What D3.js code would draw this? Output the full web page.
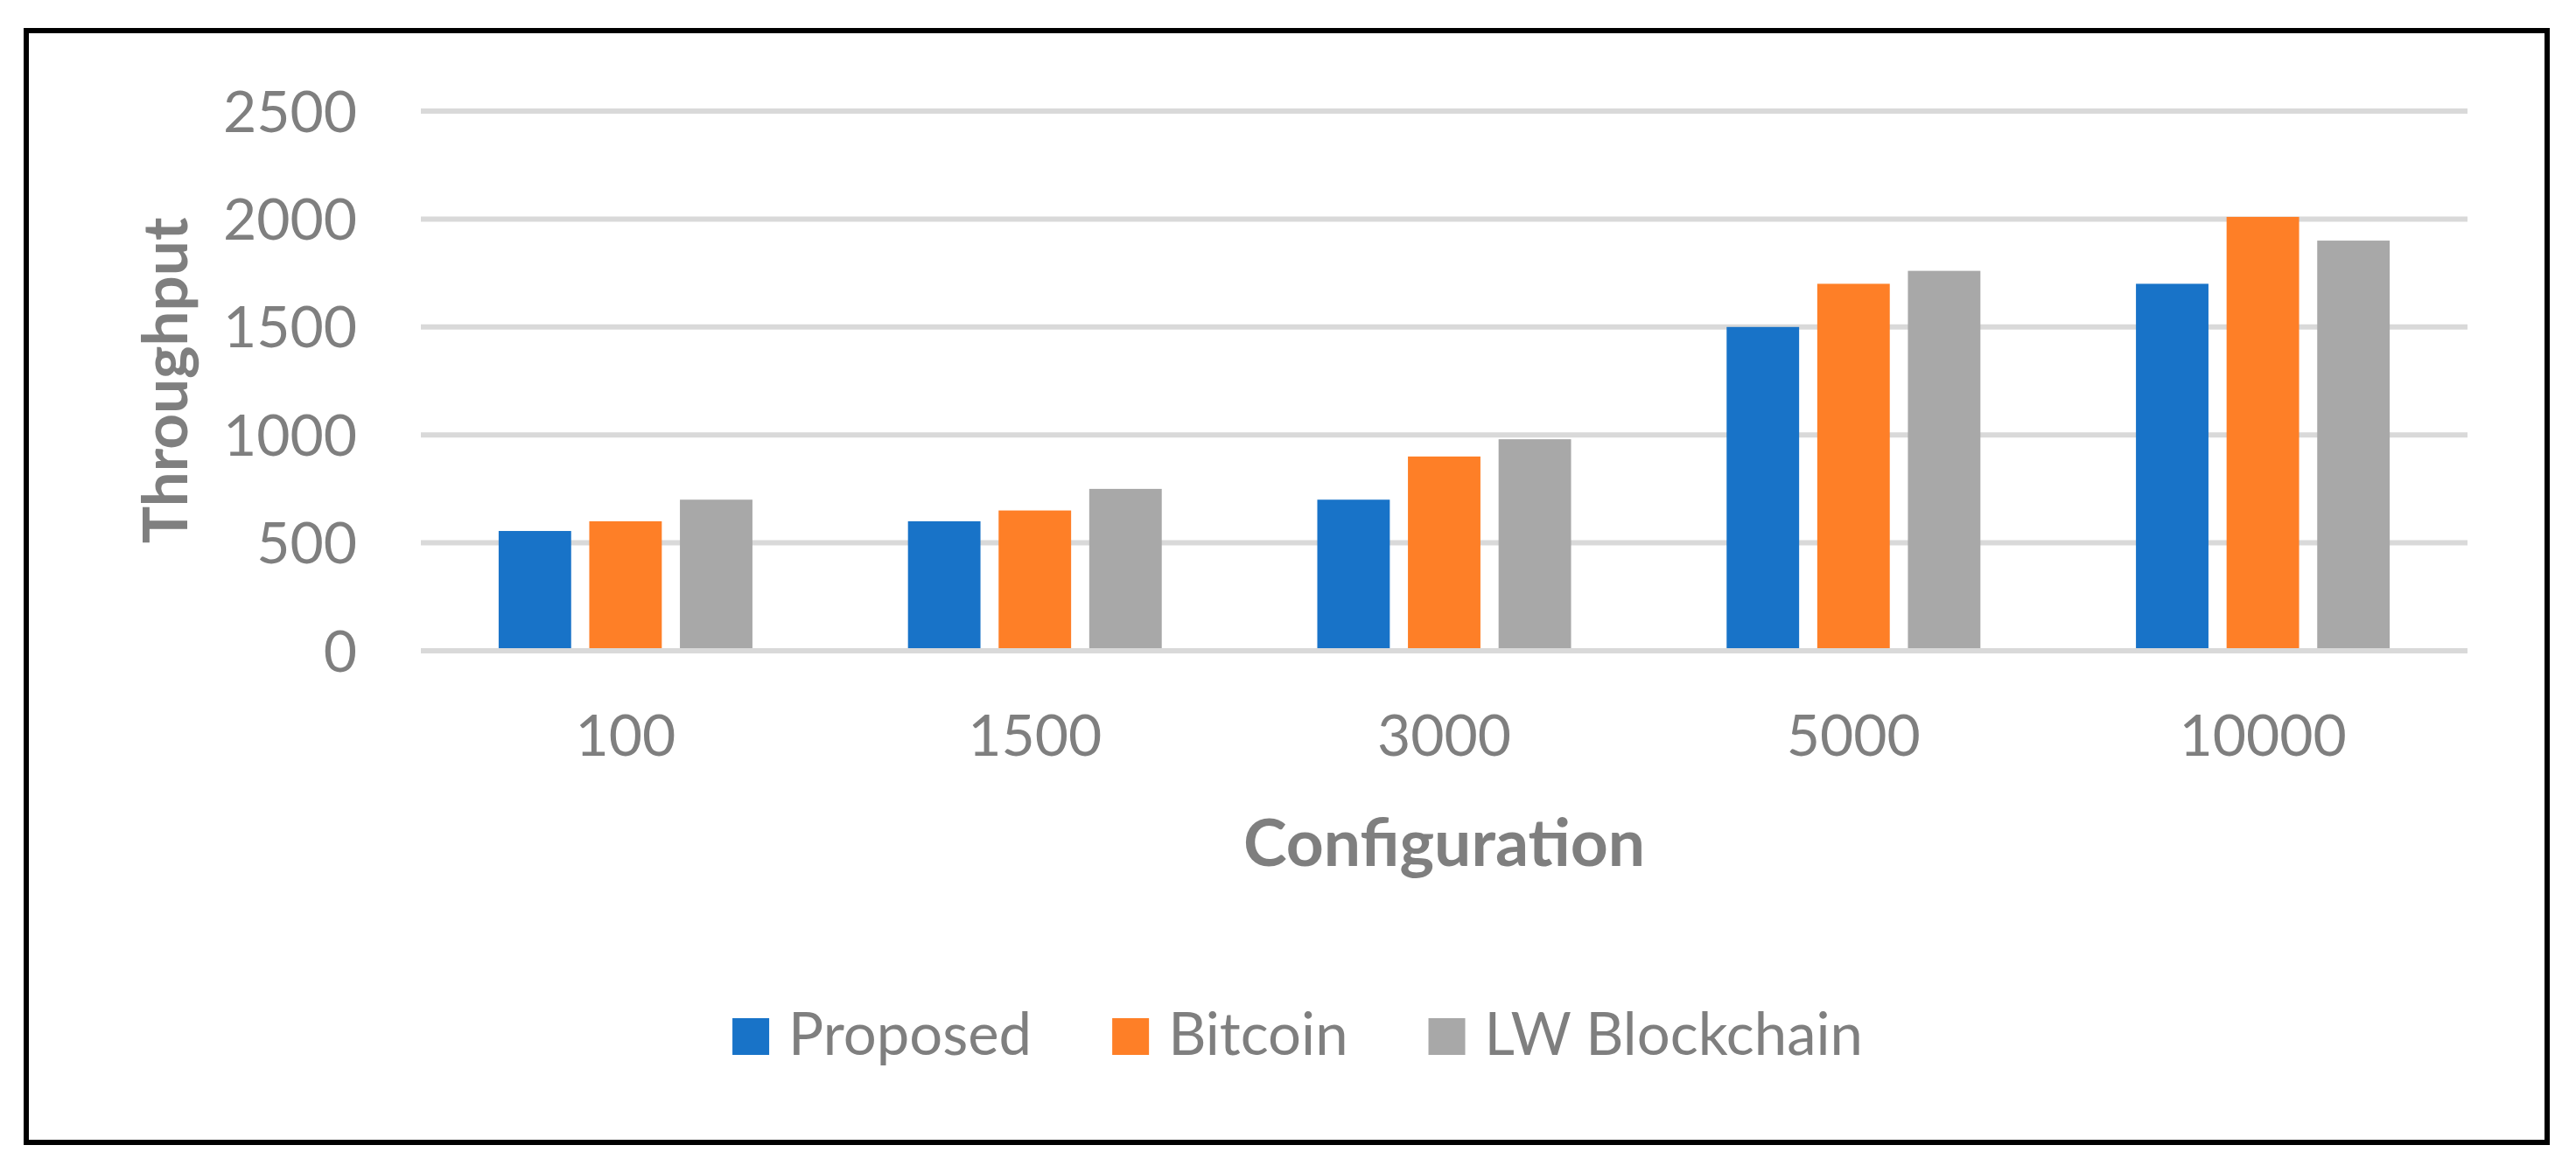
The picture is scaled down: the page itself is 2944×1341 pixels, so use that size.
<!DOCTYPE html>
<html>
<head>
<meta charset="utf-8">
<script src="https://cdn.jsdelivr.net/npm/d3@7"></script>
<style>
  body { margin: 0; background: #fff; }
  svg { display: block; }
</style>
</head>
<body>
<div id="chart"></div>
<script>
// Chart data
const categories = ["100", "1500", "3000", "5000", "10000"];
const seriesNames = ["Proposed", "Bitcoin", "LW Blockchain"];
const proposed = [555, 600, 700, 1500, 1700];
const bitcoin = [600, 650, 900, 1700, 2010];
const lwBlockchain = [700, 750, 980, 1760, 1900];
const yTicks = [0, 500, 1000, 1500, 2000, 2500];

const seriesValues = [proposed, bitcoin, lwBlockchain];
const seriesColors = ["#1873c8", "#fe7f27", "#a8a8a8"];

const width = 2944;
const height = 1341;
const plot = { left: 481, right: 2820, top: 127, bottom: 744 };
const textColor = "#7f7f7f";
const fontFamily = "Lato, 'Open Sans', sans-serif";

const svg = d3
  .select("#chart")
  .append("svg")
  .attr("width", width)
  .attr("height", height);

svg.append("rect").attr("width", width).attr("height", height).attr("fill", "#fff");

// Outer frame
svg
  .append("rect")
  .attr("x", 30)
  .attr("y", 35)
  .attr("width", 2881)
  .attr("height", 1271)
  .attr("fill", "none")
  .attr("stroke", "#000")
  .attr("stroke-width", 6);

// Scales
const x0 = d3
  .scaleBand()
  .domain(categories)
  .range([plot.left, plot.right])
  .paddingInner(0.38)
  .paddingOuter(0.19);

const x1 = d3
  .scaleBand()
  .domain(seriesNames)
  .range([0, x0.bandwidth()])
  .paddingInner(0.2);

const y = d3.scaleLinear().domain([0, 2500]).range([plot.bottom, plot.top]);

// Gridlines
svg
  .append("g")
  .selectAll("line")
  .data(yTicks.filter((t) => t > 0))
  .enter()
  .append("line")
  .attr("x1", plot.left)
  .attr("x2", plot.right)
  .attr("y1", (d) => y(d))
  .attr("y2", (d) => y(d))
  .attr("stroke", "#d9d9d9")
  .attr("stroke-width", 6);

// Bars
const rows = categories.map((c, i) => ({
  category: c,
  values: seriesNames.map((s, j) => ({ series: s, value: seriesValues[j][i], color: seriesColors[j] })),
}));

svg
  .append("g")
  .selectAll("g")
  .data(rows)
  .enter()
  .append("g")
  .attr("transform", (d) => `translate(${x0(d.category)},0)`)
  .selectAll("rect")
  .data((d) => d.values)
  .enter()
  .append("rect")
  .attr("x", (d) => x1(d.series))
  .attr("y", (d) => y(d.value))
  .attr("width", x1.bandwidth())
  .attr("height", (d) => y(0) - y(d.value))
  .attr("fill", (d) => d.color);

// Baseline (axis line drawn over bars)
svg
  .append("line")
  .attr("x1", plot.left)
  .attr("x2", plot.right)
  .attr("y1", y(0))
  .attr("y2", y(0))
  .attr("stroke", "#d9d9d9")
  .attr("stroke-width", 6);

// Y axis labels
const yAxis = svg
  .append("g")
  .attr("transform", `translate(${plot.left}, 0)`)
  .call(d3.axisLeft(y).tickValues(yTicks).tickFormat(d3.format("d")).tickSize(0).tickPadding(73));
yAxis.select(".domain").remove();
yAxis
  .selectAll("text")
  .attr("fill", textColor)
  .style("font-family", fontFamily)
  .style("font-size", "66px")
  .attr("dy", "0.35em");

// X axis labels
const xAxis = svg
  .append("g")
  .attr("transform", `translate(0, ${plot.bottom})`)
  .call(d3.axisBottom(x0).tickSize(0).tickPadding(0));
xAxis.select(".domain").remove();
xAxis
  .selectAll("text")
  .attr("fill", textColor)
  .attr("y", 120)
  .attr("dy", 0)
  .style("font-family", fontFamily)
  .style("font-size", "66px");

// Axis titles
svg
  .append("text")
  .attr("transform", "translate(214, 435) rotate(-90)")
  .attr("text-anchor", "middle")
  .attr("fill", textColor)
  .style("font-family", fontFamily)
  .style("font-weight", "bold")
  .style("font-size", "71px")
  .text("Throughput");

svg
  .append("text")
  .attr("x", (plot.left + plot.right) / 2)
  .attr("y", 990)
  .attr("text-anchor", "middle")
  .attr("fill", textColor)
  .style("font-family", fontFamily)
  .style("font-weight", "bold")
  .style("font-size", "75px")
  .text("Configuration");

// Legend
const legend = svg.append("g").attr("class", "legend");
const swatch = 42;
const swatchGap = 22;
const itemGap = 92;
const legendBaseline = 1206;

const items = seriesNames.map((name, i) => {
  const g = legend.append("g");
  g.append("rect")
    .attr("width", swatch)
    .attr("height", swatch)
    .attr("y", legendBaseline - swatch)
    .attr("fill", seriesColors[i]);
  const t = g
    .append("text")
    .attr("x", swatch + swatchGap)
    .attr("y", legendBaseline)
    .attr("fill", textColor)
    .style("font-family", fontFamily)
    .style("font-size", "67px")
    .text(name);
  return { g, w: swatch + swatchGap + t.node().getComputedTextLength() };
});

const totalW = d3.sum(items, (d) => d.w) + itemGap * (items.length - 1);
let cursor = 1483 - totalW / 2;
items.forEach((it) => {
  it.g.attr("transform", `translate(${cursor},0)`);
  cursor += it.w + itemGap;
});
</script>
</body>
</html>
